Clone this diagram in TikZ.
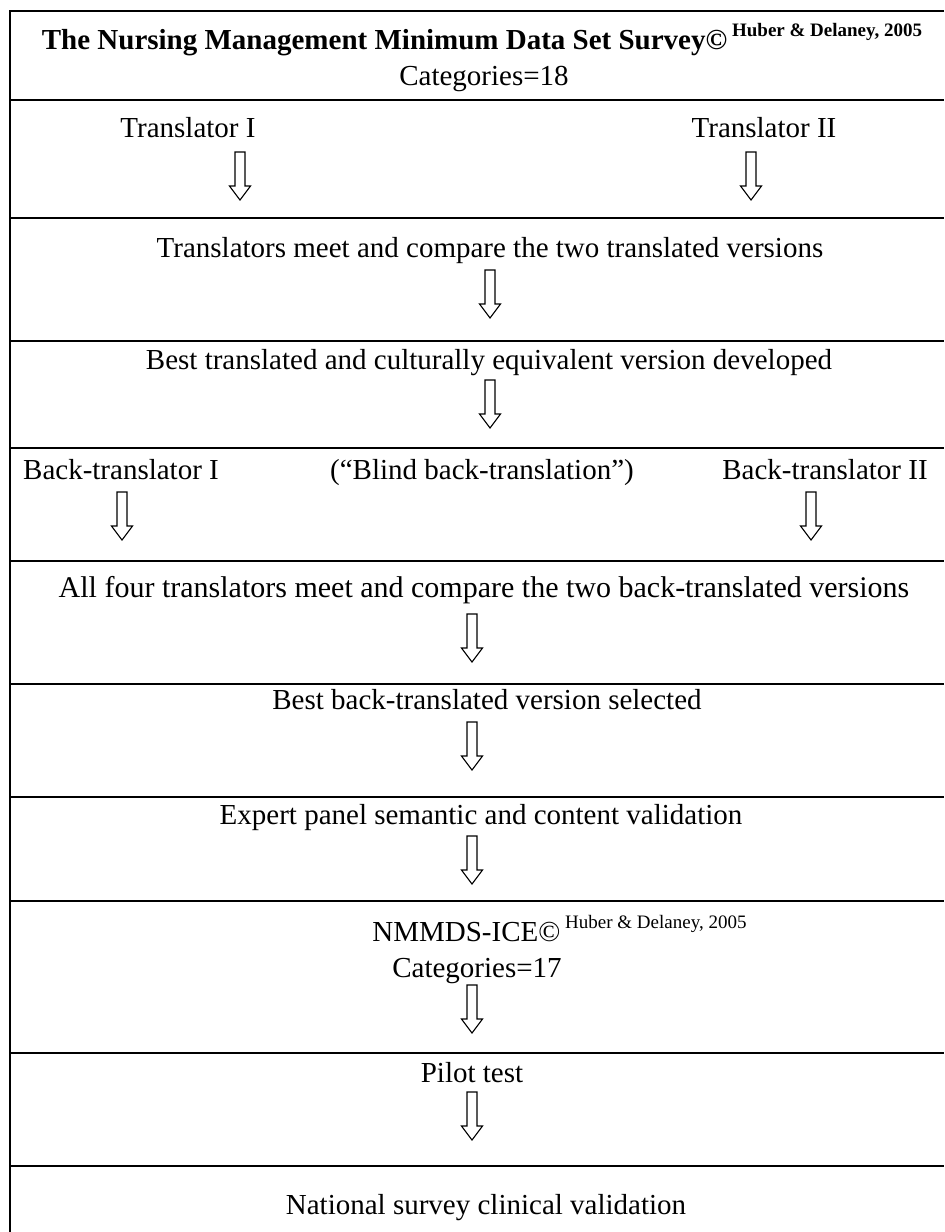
\documentclass[tikz,border=0pt]{standalone}
\usepackage{fontspec}
\setmainfont{Liberation Serif}
\begin{document}
\begin{tikzpicture}[x=0.5pt,y=-0.5pt]
\tikzset{
  rule/.style={line width=1pt},
  txt/.style={anchor=base,inner sep=0pt,font=\fontsize{14.5}{17}\selectfont},
  txtw/.style={anchor=base west,inner sep=0pt,font=\fontsize{14.5}{17}\selectfont},
  hollowarrow/.pic={\draw[line width=0.55pt,line join=miter] (-5,0) -- (5,0) -- (5,34) -- (10.5,34) -- (0,48) -- (-10.5,34) -- (-5,34) -- cycle;}
}
\newcommand{\hdsup}[1]{\raisebox{0.42em}{\fontsize{9.5}{10}\selectfont #1}}
\useasboundingbox (0,0) rectangle (944,1232);
% frame
\draw[rule] (944,11) -- (10,11) -- (10,1232);
\foreach \yy in {100,218,341,448,561,684,797,901,1053,1166}
  \draw[rule] (10,\yy) -- (944,\yy);
% texts
\node[txt] (title) at (482,49) {\textbf{The Nursing Management Minimum Data Set Survey©}\,\hdsup{\textbf{Huber \& Delaney, 2005}}};
\node[txt] (cat18) at (484,85) {Categories=18};
\node[txt] (tr1) at (188,137) {Translator I};
\node[txt] (tr2) at (764,137) {Translator II};
\node[txt] (meet) at (490,257) {Translators meet and compare the two translated versions};
\node[txt] (best) at (489,369) {Best translated and culturally equivalent version developed};
\node[txt] (btr1) at (121,479) {Back-translator I};
\node[txt] (blind) at (482,479) {(“Blind back-translation”)};
\node[txt] (btr2) at (825,479) {Back-translator II};
\node[txt,font=\fontsize{15}{18}\selectfont] (four) at (484,597) {All four translators meet and compare the two back-translated versions};
\node[txt] (bestb) at (487,709) {Best back-translated version selected};
\node[txt] (expert) at (481,824) {Expert panel semantic and content validation};
\node[txtw] (nmmds) at (372,941) {NMMDS-ICE©\,\hdsup{Huber \& Delaney, 2005}};
\node[txt] (cat17) at (477,977) {Categories=17};
\node[txt] (pilot) at (472,1082) {Pilot test};
\node[txt] (national) at (486,1214) {National survey clinical validation};
% arrows
\pic (a1) at (240,152) {hollowarrow};
\pic (a2) at (751,152) {hollowarrow};
\pic (a3) at (490,270) {hollowarrow};
\pic (a4) at (490,380) {hollowarrow};
\pic (a5) at (122,492) {hollowarrow};
\pic (a6) at (811,492) {hollowarrow};
\pic (a7) at (472,614) {hollowarrow};
\pic (a8) at (472,722) {hollowarrow};
\pic (a9) at (472,836) {hollowarrow};
\pic (a10) at (472,985) {hollowarrow};
\pic (a11) at (472,1092) {hollowarrow};
\end{tikzpicture}
\end{document}
